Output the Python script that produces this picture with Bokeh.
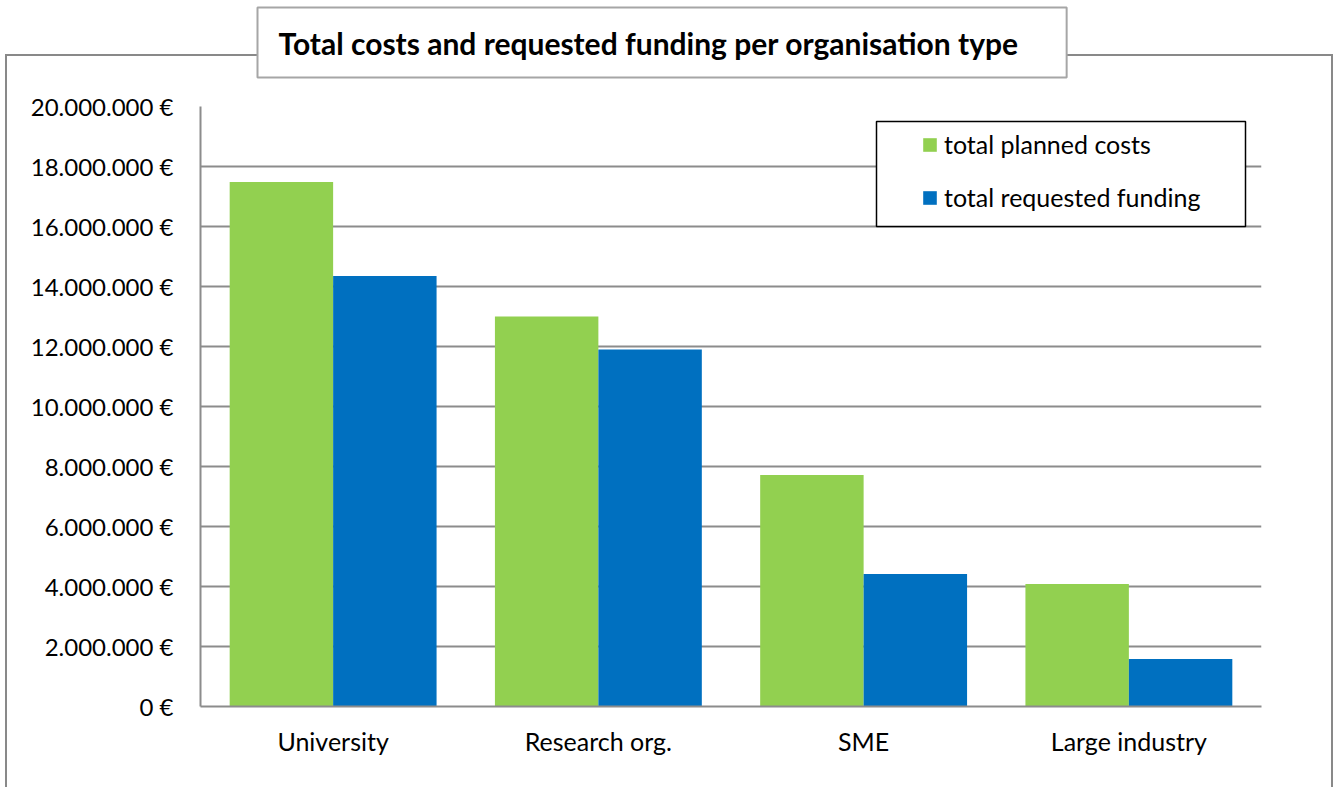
from bokeh.plotting import figure
from bokeh.models import (ColumnDataSource, FactorRange, Range1d, FixedTicker,
                          Legend, LegendItem, BoxAnnotation, Title)
from bokeh.transform import dodge
from bokeh.embed import file_html
from bokeh.resources import INLINE

# ---------------- data ----------------
categories = ["University", "Research org.", "SME", "Large industry"]
planned_costs = [17480000, 13000000, 7720000, 4080000]
requested_funding = [14350000, 11900000, 4420000, 1580000]
series_names = ["total planned costs", "total requested funding"]
y_ticks = [0, 2000000, 4000000, 6000000, 8000000, 10000000,
           12000000, 14000000, 16000000, 18000000, 20000000]
y_tick_labels = ["0 €", "2.000.000 €", "4.000.000 €", "6.000.000 €", "8.000.000 €",
                 "10.000.000 €", "12.000.000 €", "14.000.000 €", "16.000.000 €",
                 "18.000.000 €", "20.000.000 €"]
title_text = "Total costs and requested funding per organisation type"

# ---------------- style ----------------
FONT = "Lato"
GREEN = "#92D050"
BLUE = "#0070C0"
GRID = "#8c8c8c"

outer_css = {
    "background-image": ("linear-gradient(#898989,#898989), "
                         "linear-gradient(#898989,#898989), "
                         "linear-gradient(#898989,#898989)"),
    "background-position": "5px 54px, 5px 54px, 1331px 54px",
    "background-size": "1328px 2px, 2px 800px, 2px 800px",
    "background-repeat": "no-repeat",
}

p = figure(width=1335, height=787,
           x_range=FactorRange(factors=categories),
           y_range=Range1d(0, 20000000),
           output_backend="svg", toolbar_location=None,
           min_border_left=200, min_border_right=74,
           min_border_top=106, min_border_bottom=81,
           styles=outer_css)

src = ColumnDataSource(dict(cat=categories, planned=planned_costs,
                            funding=requested_funding))
r1 = p.vbar(x=dodge("cat", -0.195, range=p.x_range), top="planned", width=0.39,
            source=src, fill_color=GREEN, line_color=None)
r2 = p.vbar(x=dodge("cat", 0.195, range=p.x_range), top="funding", width=0.39,
            source=src, fill_color=BLUE, line_color=None)

# legend box (frame-relative screen units)
lbox = BoxAnnotation(left=676, right=1045, top=585, bottom=480,
                     left_units="screen", right_units="screen",
                     top_units="screen", bottom_units="screen",
                     fill_color="white", fill_alpha=1.0,
                     line_color="black", line_alpha=1.0, line_width=1.5)
p.add_layout(lbox)

legend = Legend(items=[LegendItem(label=series_names[0], renderers=[r1]),
                       LegendItem(label=series_names[1], renderers=[r2])],
                location=(721, 494), orientation="vertical",
                padding=0, margin=0, spacing=23,
                glyph_width=17, glyph_height=17, label_standoff=6,
                label_text_font=FONT, label_text_font_size="25px",
                label_text_color="black",
                border_line_color=None, background_fill_color=None)
p.add_layout(legend)

# axes
p.yaxis.ticker = FixedTicker(ticks=y_ticks)
p.yaxis.major_label_overrides = {t: l for t, l in zip(y_ticks, y_tick_labels)}
for ax in (p.xaxis[0], p.yaxis[0]):
    ax.axis_line_color = GRID
    ax.axis_line_width = 2
    ax.major_tick_line_color = None
    ax.minor_tick_line_color = None
    ax.major_tick_out = 0
    ax.major_tick_in = 0
    ax.minor_tick_out = 0
    ax.major_label_text_font = FONT
    ax.major_label_text_color = "black"
p.yaxis.major_label_text_font_size = "24px"
p.xaxis.major_label_text_font_size = "25px"
p.yaxis.major_label_standoff = 27
p.xaxis.major_label_standoff = 19

p.xgrid.grid_line_color = None
p.ygrid.grid_line_color = GRID
p.ygrid.grid_line_width = 2
p.outline_line_color = None
p.background_fill_color = "white"
p.border_fill_color = None

# spacer between the title box and the plot area
p.add_layout(Title(text=" ", text_font_size="1px", standoff=26), "above")

# title in a bordered box
p.title.text = title_text
p.title.text_font = FONT
p.title.text_font_style = "bold"
p.title.text_font_size = "30px"
p.title.text_color = "black"
p.title.align = "left"
p.title.vertical_align = "bottom"
p.title.offset = 57
p.title.standoff = 0
p.title.background_fill_color = "white"
p.title.border_line_color = "#a6a6a6"
p.title.border_line_width = 2
p.title.padding = dict(left=21, right=48, top=17, bottom=17)

open("out.html", "w").write(file_html(p, INLINE))
